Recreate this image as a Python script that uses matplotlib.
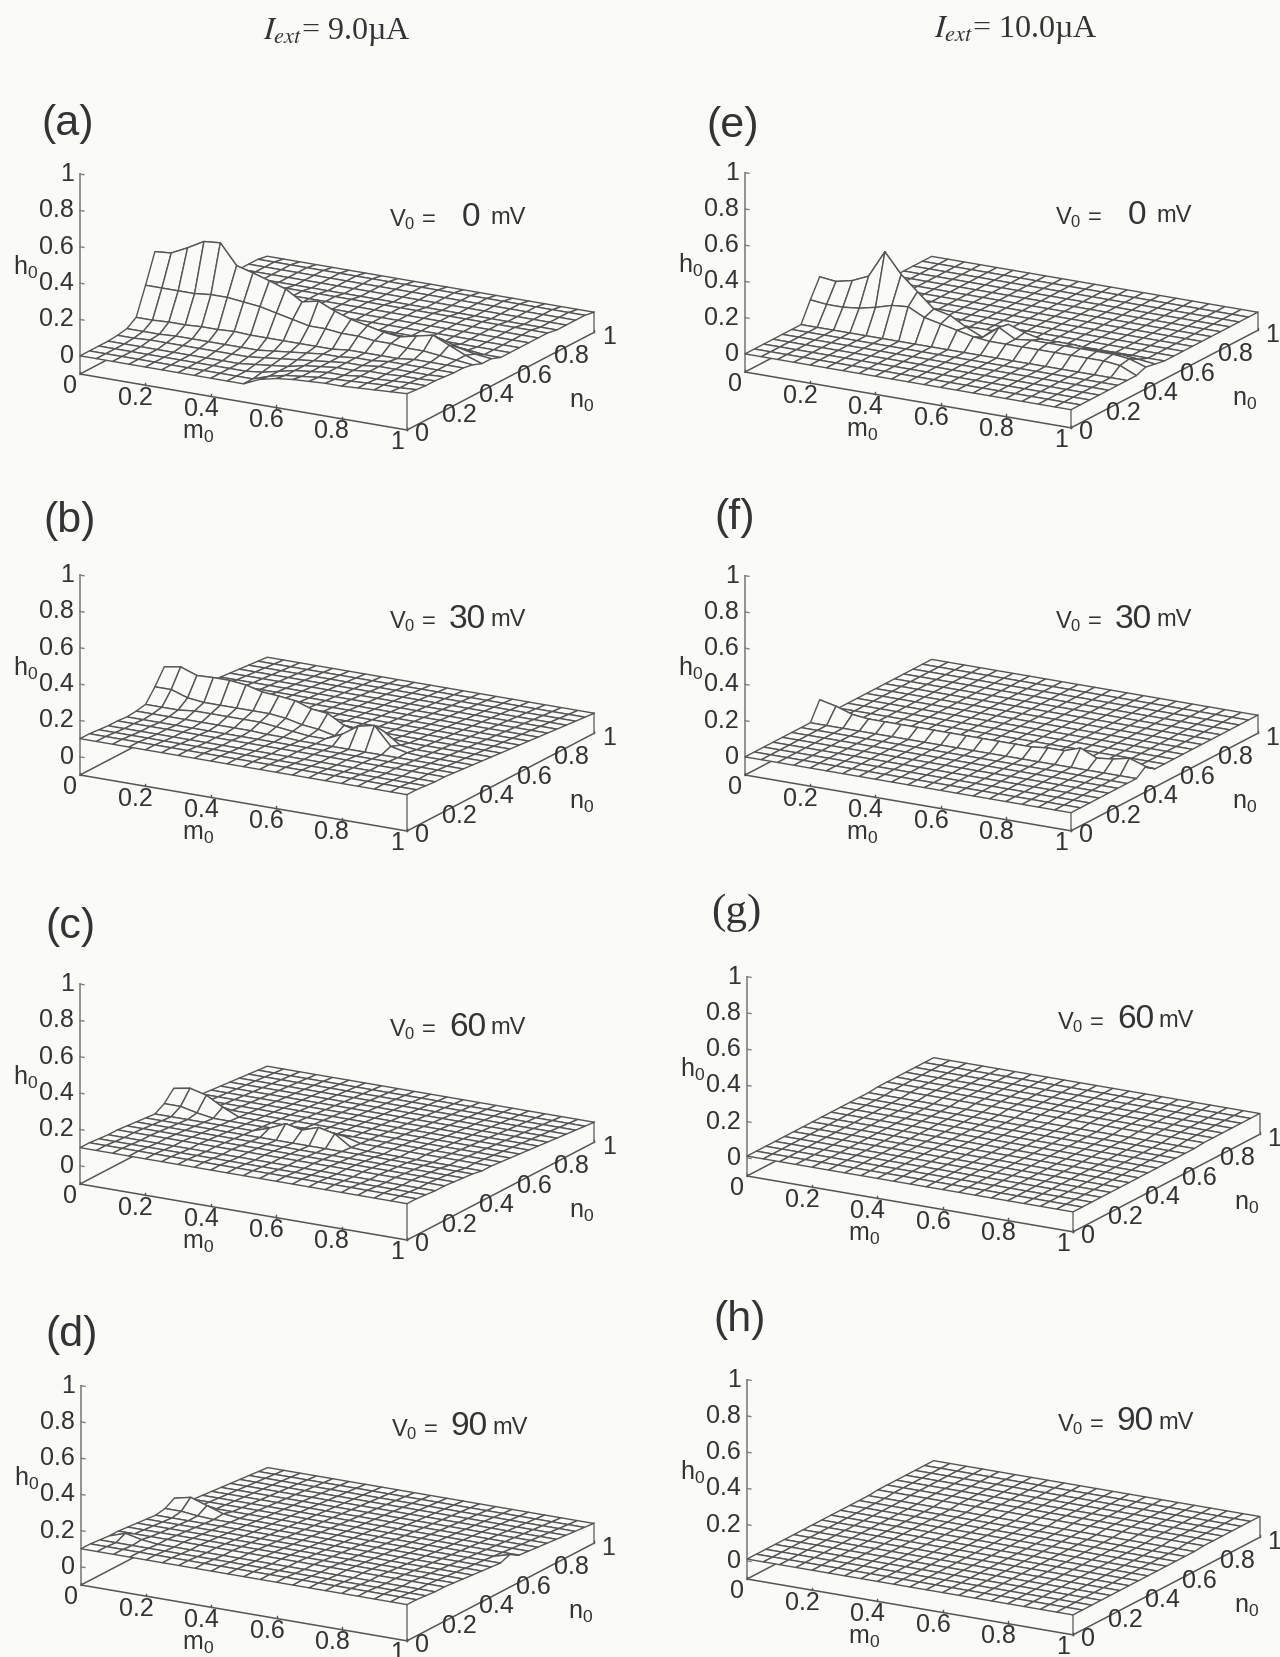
import matplotlib
matplotlib.use('Agg')
import numpy as np
import matplotlib.pyplot as plt
from mpl_toolkits.mplot3d import proj3d

plt.rcParams['font.family'] = ['Liberation Sans', 'DejaVu Sans']
plt.rcParams['mathtext.default'] = 'regular'

W, H = 1280, 1658
PAPER = '#fafaf8'
INK = '#333333'

GRID = [0.0, 0.05, 0.1, 0.15, 0.2, 0.25, 0.3, 0.35, 0.4, 0.45, 0.5,
        0.55, 0.6, 0.65, 0.7, 0.75, 0.8, 0.85, 0.9, 0.95, 1.0]
TICKS = [0, 0.2, 0.4, 0.6, 0.8, 1]
TICK_LABELS = ['0', '0.2', '0.4', '0.6', '0.8', '1']

# background surface, one value per n0 row
BASE_ZERO = [0.0, 0.0, 0.0, 0.0, 0.0, 0.0, 0.0, 0.0, 0.0, 0.0, 0.0,
             0.0, 0.0, 0.0, 0.0, 0.0, 0.0, 0.0, 0.0, 0.0, 0.0]
BASE_TILT = [0.1, 0.1, 0.095, 0.09, 0.09, 0.085, 0.08, 0.075, 0.07, 0.065, 0.06,
             0.055, 0.05, 0.045, 0.04, 0.035, 0.03, 0.025, 0.02, 0.015, 0.01]
BASE_A = [0.0, 0.0, 0.0, 0.0, 0.0, 0.0, 0.0, 0.0, 0.0, 0.01, 0.02,
          0.03, 0.03, 0.03, 0.03, 0.03, 0.02, 0.02, 0.02, 0.02, 0.01]
BASE_FLAT = [0.01, 0.01, 0.01, 0.01, 0.01, 0.01, 0.01, 0.01, 0.01, 0.01, 0.01,
             0.01, 0.01, 0.01, 0.015, 0.015, 0.015, 0.015, 0.015, 0.015, 0.015]

# rows of the surface that differ from the background: {n0 index: h0 along m0}
ROWS_A = {
    0: [0, 0, 0, 0, 0, 0, 0, 0, 0, 0, 0, .04, .06, .07, .075, .08, .08, .085, .09, .095, .1],
    1: [0, 0, 0, 0, 0, 0, 0, 0, 0, 0, 0, .03, .05, .06, .07, .075, .08, .085, .09, .09, .095],
    2: [0, 0, 0, 0, 0, 0, 0, 0, 0, 0, .01, .03, .05, .06, .07, .07, .08, .08, .085, .09, .09],
    3: [0, 0, 0, 0, 0, 0, 0, 0, 0, .01, .02, .03, .05, .06, .07, .07, .08, .08, .085, .085, .09],
    4: [.005, .005, .01, .01, .01, .01, .01, .01, .01, .02, .03, .04, .05, .06, .07, .07, .08, .08, .08, .08, .085],
    5: [.015, .015, .015, .02, .02, .02, .02, .02, .02, .03, .04, .05, .06, .06, .07, .07, .08, .08, .08, .08, .08],
    6: [.05, .05, .055, .055, .06, .06, .065, .06, .06, .06, .06, .06, .06, .07, .07, .07, .07, .08, .08, .08, .08],
    7: [.2, .2, .2, .2, .21, .21, .2, .19, .17, .15, .13, .13, .12, .12, .11, .11, .1, .1, .09, .08, .07],
    8: [.358, .366, .41, .46, .468, .358, .333, .305, .275, .22, .24, .2, .17, .15, .13, .12, .14, .16, .12, .08, .05],
    9: [.12, .12, .14, .16, .17, .12, .12, .12, .12, .13, .15, .12, .1, .1, .09, .09, .1, .11, .08, .06, .05],
    10: [.02, .02, .02, .03, .03, .03, .03, .03, .03, .03, .04, .04, .04, .04, .04, .04, .04, .05, .04, .03, .03],
}
ROWS_B = {
    6: [.09, .09, .09, .09, .09, .09, .09, .09, .085, .085, .08, .08, .08, .08, .08, .08, .08, .08, .08, .08, .08],
    7: [.1, .1, .1, .11, .11, .11, .11, .11, .1, .09, .08, .08, .12, .18, .2, .1, .08, .075, .075, .075, .075],
    8: [.17, .17, .14, .13, .13, .13, .13, .13, .12, .1, .09, .07, .1, .13, .14, .08, .07, .07, .07, .07, .07],
    9: [.253, .268, .236, .24, .24, .23, .207, .2, .19, .16, .15, .1, .08, .07, .07, .065, .065, .065, .065, .065, .065],
    10: [.08, .08, .08, .08, .08, .08, .08, .08, .08, .07, .07, .06, .06, .06, .06, .06, .06, .06, .06, .06, .06],
}
ROWS_C = {
    8: [.07, .07, .07, .07, .07, .07, .07, .1, .14, .12, .15, .13, .07, .065, .065, .065, .065, .065, .065, .065, .065],
    9: [.1, .1, .08, .065, .065, .065, .065, .07, .09, .09, .1, .09, .065, .065, .065, .065, .065, .065, .065, .065, .065],
    10: [.157, .173, .15, .1, .06, .06, .06, .06, .06, .06, .06, .06, .06, .06, .06, .06, .06, .06, .06, .06, .06],
}
ROWS_D = {
    3: [.09, .12, .1, .09, .09, .09, .09, .09, .09, .09, .09, .09, .09, .09, .09, .09, .09, .09, .09, .09, .09],
    9: [.08, .08, .07, .065, .065, .065, .065, .065, .065, .065, .065, .065, .065, .065, .065, .065, .065, .065, .065, .065, .065],
    10: [.11, .13, .1, .07, .06, .06, .06, .06, .06, .06, .06, .06, .06, .06, .06, .06, .06, .06, .06, .06, .06],
    11: [.055, .055, .055, .055, .055, .055, .055, .055, .055, .055, .055, .055, .055, .055, .055, .055, .055, .055, .055, .055, .08],
}
ROWS_E = {
    7: [.11, .1, .1, .11, .13, .156, .164, .12, .1, .08, .06, .05, .05, .05, .05, .05, .05, .05, .05, .04, .0],
    8: [.21, .2, .22, .26, .41, .3, .22, .14, .12, .07, .03, .1, .05, .06, .06, .06, .06, .06, .06, .05, .02],
    9: [.05, .05, .06, .08, .12, .1, .06, .04, .04, .04, .04, .09, .06, .04, .04, .04, .03, .03, .03, .02, .01],
}
ROWS_F = {
    8: [.1, .08, .05, .04, .04, .04, .04, .04, .04, .04, .04, .04, .04, .04, .05, .05, .08, .04, .05, .07, .04],
}

V_LABELS = ['0', '30', '60', '90', '0', '30', '60', '90']
PANEL_NAMES = ['(a)', '(b)', '(c)', '(d)', '(e)', '(f)', '(g)', '(h)']
BASES = [BASE_A, BASE_TILT, BASE_TILT, BASE_TILT, BASE_ZERO, BASE_ZERO, BASE_FLAT, BASE_FLAT]
ROWS = [ROWS_A, ROWS_B, ROWS_C, ROWS_D, ROWS_E, ROWS_F, {}, {}]

# pixel layout: floor corner at (m0=0, n0=0), floor corner at (m0=1, n0=0)
ORIGINS = [(80, 375), (80, 776), (80, 1185), (81, 1586), (745, 373), (745, 776), (747, 1177), (747, 1580)]
M_ENDS = [(407, 431), (407, 833), (407, 1242), (407, 1643), (1071, 430), (1071, 833), (1073, 1234), (1073, 1637)]
NAME_POS = [(68, 124), (70, 521), (70, 927), (72, 1335), (733, 126), (735, 518), (736, 913), (740, 1320)]
V_POS = [(389, 220), (389, 622), (389, 1030), (391, 1430), (1055, 218), (1055, 622), (1057, 1023), (1057, 1425)]


def fx(x):
    return x / W


def fy(y):
    return 1 - y / H


def place_axes(ax, origin, m_end):
    # size and shift the 3D axes so that the floor corners land on the reference pixels
    M = ax.get_proj()
    a = proj3d.proj_transform(0, 0, -0.1, M)[:2]
    b = proj3d.proj_transform(1, 0, -0.1, M)[:2]

    def measure(x0, y0, s):
        ax.set_position([x0 / W, y0 / H, s / W, s / H])
        ax.apply_aspect()
        return ax.transData.transform([a, b])

    s = 800
    p = measure(100, 100, s)
    s = s * (m_end[0] - origin[0]) / (p[1][0] - p[0][0])
    p = measure(100, 100, s)
    x0 = 100 + origin[0] - p[0][0]
    y0 = 100 + (H - origin[1]) - p[0][1]
    measure(x0, y0, s)


def draw_panel(fig, i):
    ax = fig.add_subplot(projection='3d', proj_type='ortho', computed_zorder=False)
    ax.view_init(elev=17.4, azim=-60.2)
    ax.set_xlim(0, 1)
    ax.set_ylim(0, 1)
    ax.set_zlim(-0.1, 1)
    ax.set_box_aspect((1, 1, 0.556))
    ax.set_axis_off()
    ax.patch.set_visible(False)
    place_axes(ax, ORIGINS[i], M_ENDS[i])

    Z = np.tile(np.array(BASES[i], dtype=float)[:, None], (1, len(GRID)))
    for row, values in ROWS[i].items():
        Z[row, :] = values
    X, Y = np.meshgrid(GRID, GRID)
    floor = -0.1

    # box edges
    edge = dict(color='#555555', lw=1.1, zorder=1)
    ax.plot([0, 1], [0, 0], [floor, floor], **edge)
    ax.plot([1, 1], [0, 1], [floor, floor], **edge)
    ax.plot([0, 0], [0, 1], [floor, floor], **edge)
    ax.plot([0, 0], [0, 0], [floor, 1], color='#808080', lw=1.2, zorder=1)
    ax.plot([1, 1], [0, 0], [floor, Z[0, -1]], color='#808080', lw=1.2, zorder=1)
    ax.plot([1, 1], [1, 1], [floor, Z[-1, -1]], color='#808080', lw=1.2, zorder=1)

    ax.plot_surface(X, Y, Z, rstride=1, cstride=1, color=PAPER, edgecolor='#555555',
                    linewidth=1.0, shade=False, zorder=2)

    # ticks and tick labels
    for t, lab in zip(TICKS, TICK_LABELS):
        ax.plot([0, 0.012], [0, 0], [t, t], color='#808080', lw=1.0, zorder=1)
        ax.plot([t, t], [0, 0], [floor, floor + 0.012], color='#555555', lw=1.0, zorder=1)
        ax.plot([1, 1], [t, t], [floor, floor + 0.012], color='#555555', lw=1.0, zorder=1)
        ax.text(-0.018, 0, t, lab, ha='right', va='center', fontsize=18, color=INK)
        ax.text(t, -0.052, floor - 0.035, lab, ha='center', va='center', fontsize=18, color=INK)
        ax.text(1.045, t, floor - 0.005, lab, ha='center', va='center', fontsize=18, color=INK)

    ax.text(-0.167, 0, 0.443, 'h$_0$', ha='center', va='center', fontsize=18, color=INK)
    ax.text(0.36, 0, -0.31, 'm$_0$', ha='center', va='center', fontsize=18, color=INK)
    ax.text(1, 0.93, -0.44, 'n$_0$', ha='center', va='center', fontsize=18, color=INK)

    nx, ny = NAME_POS[i]
    fig.text(fx(nx), fy(ny), PANEL_NAMES[i], ha='center', va='center', fontsize=31, color=INK,
             family='Liberation Serif' if PANEL_NAMES[i] == '(g)' else 'Liberation Sans')

    vx, vy = V_POS[i]
    right = 91 if V_LABELS[i] == '0' else 97
    fig.text(fx(vx), fy(vy), 'V$_0$ =', ha='left', va='center', fontsize=17, color=INK)
    fig.text(fx(vx + right), fy(vy - 3), V_LABELS[i], ha='right', va='center', fontsize=24, color=INK)
    fig.text(fx(vx + 101), fy(vy - 2), 'mV', ha='left', va='center', fontsize=17, color=INK)


fig = plt.figure(figsize=(W / 100, H / 100), dpi=100, facecolor=PAPER)

for i in range(8):
    draw_panel(fig, i)

fig.text(fx(337), fy(32), r'$\mathit{I_{ext}}$= 9.0µA', ha='center', va='center', fontsize=23,
         color=INK, family='Liberation Serif', math_fontfamily='stix')
fig.text(fx(1016), fy(30), r'$\mathit{I_{ext}}$= 10.0µA', ha='center', va='center', fontsize=23,
         color=INK, family='Liberation Serif', math_fontfamily='stix')

fig.savefig('out.png', dpi=100, facecolor=PAPER)
